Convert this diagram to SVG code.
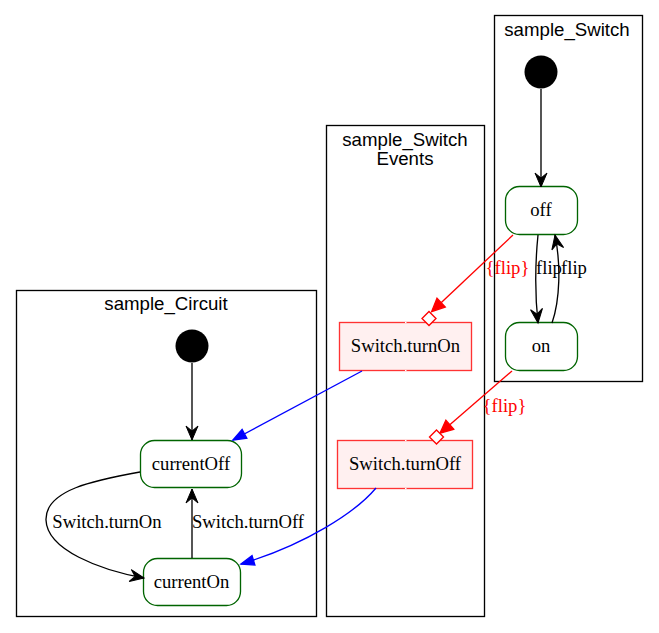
<svg xmlns="http://www.w3.org/2000/svg" width="659" height="633" viewBox="0 0 659 633">
<style>
.cluster{fill:none;stroke:#000;stroke-width:1.33}
.ctitle{font-family:"Liberation Sans",Arial,sans-serif;font-size:18.67px;text-anchor:middle;fill:#000}
.state{fill:#fff;stroke:#006400;stroke-width:1.33}
.event{fill:#fff0f0;stroke:#ff3333;stroke-width:1.33}
.lbl{font-family:"Liberation Serif","Times New Roman",serif;font-size:18.67px;text-anchor:middle;fill:#000}
.red{fill:#ff0000}
.init{fill:#000}
.e{fill:none;stroke:#000;stroke-width:1.33}
.er{fill:none;stroke:#ff0000;stroke-width:1.33}
.eb{fill:none;stroke:#0000ff;stroke-width:1.33}
.dia{fill:#fff;stroke:#ff0000;stroke-width:1.33}
</style>
<defs>
<marker id="vee" markerUnits="userSpaceOnUse" orient="auto" refX="0" refY="0" markerWidth="16" markerHeight="16" style="overflow:visible">
<polygon points="0,0 -14,-6 -9,0 -14,6" fill="#000" stroke="#000" stroke-width="1"/>
</marker>
<marker id="blue" markerUnits="userSpaceOnUse" orient="auto" refX="0" refY="0" markerWidth="16" markerHeight="16" style="overflow:visible">
<polygon points="0,0 -13,-5 -13,5" fill="#0000ff" stroke="#0000ff" stroke-width="1.33"/>
</marker>
<marker id="redtri" markerUnits="userSpaceOnUse" orient="auto" refX="0" refY="0" markerWidth="16" markerHeight="16" style="overflow:visible">
<polygon points="0,-6 13,0 0,6" fill="#ff0000" stroke="#ff0000" stroke-width="1.33"/>
</marker>
</defs>

<g id="cluster_sample_Switch">
<rect class="cluster" x="494.5" y="15.5" width="148" height="366"/>
<text class="ctitle" x="567" y="36">sample_Switch</text>
</g>
<g id="cluster_sample_Switch_Events">
<rect class="cluster" x="326.5" y="125.5" width="158" height="491"/>
<text class="ctitle" x="405" y="146">sample_Switch</text>
<text class="ctitle" x="405" y="165">Events</text>
</g>
<g id="cluster_sample_Circuit">
<rect class="cluster" x="16.5" y="290.5" width="300" height="326"/>
<text class="ctitle" x="166" y="310">sample_Circuit</text>
</g>

<g id="sw_init"><circle class="init" cx="541" cy="72" r="16.5"/></g>
<g id="sw_off"><rect class="state" x="505.5" y="186.5" width="72" height="48" rx="14"/><text class="lbl" x="541" y="216">off</text></g>
<g id="sw_on"><rect class="state" x="505.5" y="322.5" width="72" height="48" rx="14"/><text class="lbl" x="541" y="352">on</text></g>

<g id="ev_turnOn"><rect class="event" x="339.5" y="322.5" width="132" height="48"/><line x1="405" y1="322.5" x2="406.5" y2="322.5" stroke="#fff"/><line x1="405" y1="370.5" x2="406.5" y2="370.5" stroke="#fff"/><text class="lbl" x="405.5" y="352">Switch.turnOn</text></g>
<g id="ev_turnOff"><rect class="event" x="337.5" y="440.5" width="135" height="48"/><line x1="405" y1="440.5" x2="406.5" y2="440.5" stroke="#fff"/><line x1="405" y1="488.5" x2="406.5" y2="488.5" stroke="#fff"/><text class="lbl" x="405" y="470">Switch.turnOff</text></g>

<g id="c_init"><circle class="init" cx="192" cy="346" r="16.5"/></g>
<g id="c_currentOff"><rect class="state" x="140.5" y="440.5" width="101" height="47" rx="14"/><text class="lbl" x="191" y="470">currentOff</text></g>
<g id="c_currentOn"><rect class="state" x="143.5" y="558.5" width="97" height="47" rx="14"/><text class="lbl" x="191.5" y="588">currentOn</text></g>

<g id="connectors">
<path class="e" d="M541,89 L541,187" marker-end="url(#vee)"/>
<path class="e" d="M538,235 C535,265 535,295 538,323" marker-end="url(#vee)"/>
<text class="lbl" x="549" y="274">flip</text>
<path class="e" d="M552,323 C560,300 561,265 555,235" marker-end="url(#vee)"/>
<text class="lbl" x="574" y="274">flip</text>
<path class="er" d="M513,235 L441.1,302.7" marker-end="url(#redtri)"/>
<polygon class="dia" points="429,311.5 436,318.5 429,325.5 422,318.5"/>
<text class="lbl red" x="507.5" y="274">{flip}</text>
<path class="er" d="M512,371 L449.8,424.7" marker-end="url(#redtri)"/>
<polygon class="dia" points="436.5,430 443.5,437 436.5,444 429.5,437"/>
<text class="lbl red" x="504.5" y="412">{flip}</text>
<path class="eb" d="M362,371 L233,440" marker-end="url(#blue)"/>
<path class="eb" d="M376,488 C356,512 305,545 241,564" marker-end="url(#blue)"/>
<path class="e" d="M192,363 L192,440" marker-end="url(#vee)"/>
<path class="e" d="M140,472 C95,480 45,490 46,520 C47,550 100,570 144,578" marker-end="url(#vee)"/>
<text class="lbl" x="107" y="528">Switch.turnOn</text>
<path class="e" d="M192,558 L192,489" marker-end="url(#vee)"/>
<text class="lbl" x="248" y="528">Switch.turnOff</text>
</g>
</svg>
